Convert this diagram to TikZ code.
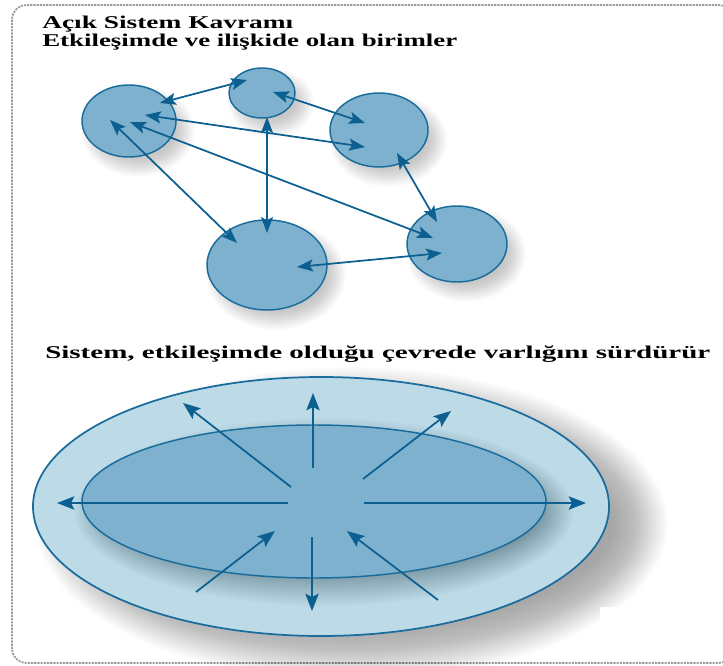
\documentclass[tikz,border=0pt]{standalone}
\usepackage{fontspec}
\setmainfont{Liberation Serif}
\usetikzlibrary{arrows.meta,shapes.geometric}

\definecolor{unitfill}{HTML}{7DB1CD}
\definecolor{unitline}{HTML}{1A6C9C}
\definecolor{arrowblue}{HTML}{0B5F91}
\definecolor{envfill}{HTML}{BDDAE7}
\definecolor{framegray}{HTML}{9A9A9A}

% stretch a text horizontally to a given width
\newsavebox\fitbox
\newcommand\fitto[2]{\sbox\fitbox{#2}%
  \pgfmathsetmacro\fitscale{#1/\the\wd\fitbox}%
  \scalebox{\fitscale}[1]{\usebox\fitbox}}

% soft shadow: stacked translucent ellipses
% #1,#2 centre, #3,#4 radii, #5 steps, #6 opacity per step
\newcommand\softshadow[6]{%
  \foreach \k in {0,...,#5}{%
    \fill[black,opacity=#6] (#1,#2) ellipse [x radius={#3-#5/2+\k}, y radius={#4-#5/2+\k}];}}

\begin{document}
\begin{tikzpicture}[x=0.75pt,y=-0.75pt,
  unit/.style={ellipse, draw=unitline, fill=unitfill, line width=1.1pt, inner sep=0pt},
  link/.style={draw=arrowblue, line width=1.3pt,
    {Stealth[length=12pt,width=9pt,inset=2.5pt]}-{Stealth[length=12pt,width=9pt,inset=2.5pt]}},
  ray/.style={draw=arrowblue, line width=1.3pt, -{Stealth[length=13pt,width=10pt,inset=2.5pt]}},
  caption/.style={anchor=base west, inner sep=0pt, font=\bfseries\fontsize{13.5}{15}\selectfont}]
\useasboundingbox (0,0) rectangle (723,666);

% dashed frame
\begin{scope}
  \clip (0,0) rectangle (723,666);
  \draw[framegray, line width=1.3pt, dash pattern=on 1.6pt off 0.8pt, rounded corners=11pt]
    (12,5) rectangle (733,663);
\end{scope}

% headings
\node[caption] (t1) at (42,29) {\fitto{188.25pt}{Açık Sistem Kavramı}};
\node[caption] (t2) at (42,47) {\fitto{311.25pt}{Etkileşimde ve ilişkide olan birimler}};
\node[caption] (t3) at (45,358) {\fitto{498.75pt}{Sistem, etkileşimde olduğu çevrede varlığını sürdürür}};

% shadows of the interacting units
\softshadow{138}{131}{47}{36}{20}{0.013}
\softshadow{271}{103}{33}{25}{20}{0.013}
\softshadow{388}{140}{49}{37}{20}{0.013}
\softshadow{276}{275}{60}{45}{20}{0.013}
\softshadow{466}{254}{50}{38}{20}{0.013}

% interacting units
\node[unit, minimum width=70.5pt, minimum height=54pt]   (A) at (129,121) {};
\node[unit, minimum width=49.5pt, minimum height=37.5pt] (B) at (262,93)  {};
\node[unit, minimum width=73.5pt, minimum height=55.5pt] (C) at (379,130) {};
\node[unit, minimum width=90pt,   minimum height=67.5pt] (D) at (267,265) {};
\node[unit, minimum width=75pt,   minimum height=57pt]   (E) at (457,244) {};

% arrow ends inside the units
\coordinate (ab1) at (160,103); \coordinate (ab2) at (247,80);
\coordinate (ac1) at (145,115); \coordinate (ac2) at (365,147);
\coordinate (ae1) at (130,122); \coordinate (ae2) at (433,238);
\coordinate (ad1) at (110,120); \coordinate (ad2) at (237,243);
\coordinate (bc1) at (273,92);  \coordinate (bc2) at (365,123);
\coordinate (bd1) at (267,117); \coordinate (bd2) at (267,233);
\coordinate (ce1) at (397,153); \coordinate (ce2) at (437,222);
\coordinate (de1) at (297,267); \coordinate (de2) at (442,253);

\draw[link] (ab1) -- (ab2);
\draw[link] (ac1) -- (ac2);
\draw[link] (ae1) -- (ae2);
\draw[link] (ad1) -- (ad2);
\draw[link] (bc1) -- (bc2);
\draw[link] (bd1) -- (bd2);
\draw[link] (ce1) -- (ce2);
\draw[link] (de1) -- (de2);

% environment and system
\softshadow{352}{524}{288}{129.5}{56}{0.008}
\fill[white] (600,607) rectangle (668,635);
\node[ellipse, draw=unitline, fill=envfill, line width=1.3pt, inner sep=0pt,
      minimum width=432pt, minimum height=194.25pt] (env) at (321,506.5) {};
\begin{scope}
  \clip (321,506.5) ellipse [x radius=287, y radius=128.5];
  \softshadow{324}{512}{232}{76.5}{36}{0.007}
\end{scope}
\node[ellipse, draw=unitline, fill=unitfill, line width=1.1pt, inner sep=0pt,
      minimum width=348pt, minimum height=114.75pt] (sys) at (314,501.5) {};

% rays from and into the system
\coordinate (w1) at (288,503);  \coordinate (w2) at (57,503);
\coordinate (e1) at (364,503);  \coordinate (e2) at (586,503);
\coordinate (n1) at (313,468);  \coordinate (n2) at (313,393);
\coordinate (s1) at (312,537);  \coordinate (s2) at (312,611);
\coordinate (nw1) at (291,487); \coordinate (nw2) at (183,403);
\coordinate (ne1) at (363,479); \coordinate (ne2) at (451,411);
\coordinate (sw1) at (196,592); \coordinate (sw2) at (275,531);
\coordinate (se1) at (438,600); \coordinate (se2) at (347,531);

\draw[ray] (w1) -- (w2);
\draw[ray] (e1) -- (e2);
\draw[ray] (n1) -- (n2);
\draw[ray] (s1) -- (s2);
\draw[ray] (nw1) -- (nw2);
\draw[ray] (ne1) -- (ne2);
\draw[ray] (sw1) -- (sw2);
\draw[ray] (se1) -- (se2);
\end{tikzpicture}
\end{document}
